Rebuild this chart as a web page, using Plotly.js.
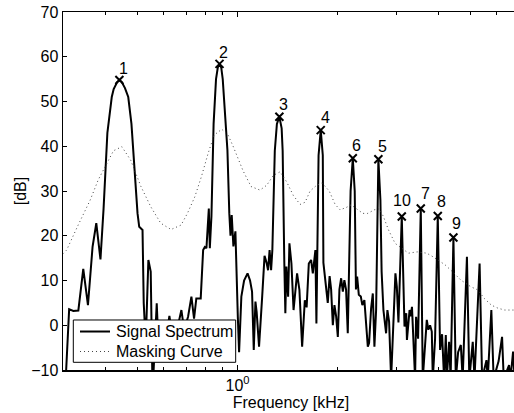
<!DOCTYPE html>
<html>
<head>
<meta charset="utf-8">
<script src="https://cdn.plot.ly/plotly-3.0.1.min.js"></script>
<style>
html,body{margin:0;padding:0;overflow:hidden;background:#fff;width:514px;height:413px;}
#chart{width:520px;height:413px;}
</style>
</head>
<body>
<div id="chart"></div>
<script>
// Signal spectrum: frequency [kHz] and level [dB]
const specFreq = [0.301,0.312,0.321,0.3325,0.344,0.3553,0.3668,0.3764,0.3874,0.3958,0.4064,0.4189,0.4245,0.4345,0.4416,0.4486,0.4590,0.4695,0.48,0.4903,0.5006,0.5065,0.5182,0.5225,0.5298,0.5396,0.5484,0.5555,0.5643,0.5717,0.5782,0.5977,0.6102,0.624,0.6356,0.658,0.678,0.691,0.710,0.7266,0.740,0.7517,0.7749,0.788,0.7971,0.8062,0.8196,0.8253,0.8345,0.8471,0.8614,0.8720,0.8825,0.8930,0.9023,0.919,0.932,0.9443,0.9522,0.9602,0.9714,0.985,0.9931,1.0014,1.0104,1.0263,1.0459,1.0713,1.090,1.1052,1.1183,1.1313,1.1408,1.1599,1.1844,1.2048,1.2215,1.2347,1.2476,1.2607,1.2717,1.2934,1.3123,1.335,1.3561,1.3656,1.3813,1.3913,1.401,1.4182,1.431,1.451,1.4725,1.5088,1.5334,1.5626,1.5918,1.6118,1.6363,1.6627,1.6823,1.6971,1.7126,1.7246,1.7506,1.777,1.8024,1.8099,1.8348,1.8655,1.8894,1.9093,1.932,1.9536,1.9767,2.0,2.0222,2.0462,2.0704,2.0925,2.1175,2.1422,2.1846,2.218,2.2478,2.2667,2.2856,2.3122,2.3447,2.3692,2.403,2.4321,2.4607,2.4826,2.5174,2.5472,2.5756,2.6061,2.647,2.6847,2.7071,2.7411,2.7924,2.8178,2.851,2.8909,2.9372,2.9783,3.0074,3.0411,3.112,3.1494,3.1714,3.2096,3.2252,3.2843,3.3117,3.3394,3.3767,3.412,3.4357,3.4837,3.549,3.5985,3.6995,3.7406,3.785,3.830,3.8567,3.918,3.992,4.056,4.1125,4.1701,4.2196,4.2489,4.3171,4.3622,4.448,4.5221,4.5948,4.6818,4.7412,4.8834,4.9656,5.0838,5.1455,5.3305,5.4244,5.5894,5.6399,5.7812,5.8739,6.08,6.2264,6.2998,6.5356,6.60,6.7192,6.79,6.95];
const specDb = [-20,3.6,3.2,3.3,12.6,4.5,17.5,22.8,14.7,26,43,51,52.8,54.3,54.8,54.4,53,51,45,35,25,22,21.3,5,-4,14.6,12,-15,-2,4.9,-4,-1,-3,2.1,-2,-1,3.4,-1,1.9,6.4,1.5,6,6,16.8,17.5,17.2,26.1,17.2,24.3,45,55,57.6,58.4,57.6,55,45,39.2,25,20,24.6,17.6,21,10,2,-6,6.4,10,11.6,10,7.5,-5.5,5.3,3,-4.8,6,15.5,14,12.3,16.8,12.3,16.8,39,45,46.6,44,39,14,2.7,13.1,6.4,18.3,13.8,3.4,11.6,7.9,-4.8,5.6,4,13.8,14.6,11.6,14,16.8,0.4,38,43.6,38,14,10,5,11,8,0,4.5,2,-2.6,8,10.5,7.5,10.1,7.9,-1.8,30,37.3,30,8,10.9,6.8,6.4,4.5,5.6,-1.1,-4.8,-4,3.8,7.1,-4.8,3.4,37.1,28,12,3.4,-1.8,3.4,0.8,-12,-0.7,11.6,8.6,0.6,24.3,5.6,-0.3,2.7,-3.3,3.4,2,4.1,-2.6,-12,1.9,-3,26.1,-12,1.2,-1,0,-1.4,-12,-3,24.4,-5.5,-2,-12,-2.2,-12,-3.7,-12,19.6,-12,-6,-4.4,-12,15.3,-12,-3.7,-12,13.8,-12,-7.8,-12,3.4,-12,-8,-2.6,-12,-8.9,-12,-5.9,-12,-12];

// Masking curve: frequency [kHz] and level [dB]
const maskFreq = [0.299,0.3066,0.3321,0.361,0.3815,0.4047,0.424,0.4492,0.4774,0.5126,0.5484,0.5878,0.6313,0.6767,0.7068,0.7439,0.7786,0.8155,0.8503,0.8964,0.9364,0.9694,1.0388,1.0977,1.168,1.2234,1.2812,1.342,1.4048,1.4703,1.541,1.595,1.651,1.7292,1.7937,1.8843,1.963,2.032,2.1175,2.1919,2.2951,2.3781,2.4607,2.5746,2.6652,2.7411,2.8391,2.972,3.112,3.2603,3.4605,3.6995,3.8627,4.056,4.199,4.4713,4.6818,5.0198,5.2629,5.5056,5.7812,6.0588,6.3414,6.767,7.0];
const maskDb = [16,16.8,22.4,28,32.5,36.2,39,39.9,36.9,31,26.5,22.8,21.4,22.4,25,28.7,33.2,38.4,42.5,43.8,42.5,40,34.5,31,30.2,31.3,33.5,34.3,32,29,27,27.5,30,31.3,31.8,30,27,25.8,26.3,26.9,25.8,25,25,25.8,26,24.3,21.3,18.3,17.2,16.1,16.4,16.1,15.3,14.2,13.5,11.6,10.1,8.6,7.9,6,4.5,3.8,3.4,3.4,3.4];

// Marked peaks
const peakLabels = ['1','2','3','4','6','5','10','7','8','9'];
const peakFreq = [0.4416,0.8825,1.335,1.777,2.218,2.647,3.112,3.549,3.992,4.448];
const peakDb = [54.8,58.4,46.6,43.6,37.3,37.1,24.3,26.1,24.4,19.6];
const labelDx = [4,3.5,4,4.3,4,4.4,0,4.3,4,3.4];
const labelDy = [12,11.5,12,13,12.5,12.5,16.5,15,14.3,13.7];

// Legend entries
const seriesNames = ['Signal Spectrum', 'Masking Curve'];

// Axis ticks
const xMajorVals = [1];
const xMajorText = ['10<sup>0</sup>'];
const xMinorVals = [0.4,0.5,0.6,0.7,0.8,0.9,2,3,4,5,6];
const yTickVals = [-10,0,10,20,30,40,50,60,70];

const FONT = 'Liberation Sans, Arial, Helvetica, sans-serif';
const specLine = {color: '#000', width: 2};
const maskLine = {color: '#444', width: 1, dash: '1px,3px'};

const traces = [
  {x: specFreq, y: specDb, type: 'scatter', mode: 'lines', name: seriesNames[0], line: specLine},
  {x: maskFreq, y: maskDb, type: 'scatter', mode: 'lines', name: seriesNames[1], line: maskLine},
  {x: peakFreq, y: peakDb, type: 'scatter', mode: 'markers', name: 'Peaks',
   marker: {symbol: 'x-thin', size: 8, color: '#000', line: {color: '#000', width: 2}}}
];

const annotations = peakLabels.map((t, i) => ({
  x: Math.log10(peakFreq[i]), y: peakDb[i], xref: 'x', yref: 'y',
  text: t, showarrow: false, xanchor: 'center', yanchor: 'middle',
  xshift: labelDx[i], yshift: labelDy[i],
  font: {family: FONT, size: 16, color: '#000'}
}));

// Boxed legend (MATLAB style) in paper coordinates
const LG = {x0: 0.0226, x1: 0.3787, y0: 0.0215, y1: 0.1397, s0: 0.0373, s1: 0.1031, tx: 0.112, rows: [0.1075, 0.0517]};
const shapes = [
  {type: 'rect', xref: 'paper', yref: 'paper', x0: LG.x0, x1: LG.x1, y0: LG.y0, y1: LG.y1,
   line: {color: '#000', width: 1}, fillcolor: '#fff', layer: 'above'},
  {type: 'line', xref: 'paper', yref: 'paper', x0: LG.s0, x1: LG.s1, y0: LG.rows[0], y1: LG.rows[0],
   line: specLine, layer: 'above'},
  {type: 'line', xref: 'paper', yref: 'paper', x0: LG.s0, x1: LG.s1, y0: LG.rows[1], y1: LG.rows[1],
   line: maskLine, layer: 'above'}
];
seriesNames.forEach((n, i) => annotations.push({
  xref: 'paper', yref: 'paper', x: LG.tx, y: LG.rows[i], xanchor: 'left', yanchor: 'middle',
  text: n, showarrow: false, font: {family: FONT, size: 16, color: '#000'}
}));

const layout = {
  width: 520, height: 413,
  margin: {l: 63, r: 1, t: 12, b: 43, pad: 0},
  paper_bgcolor: '#fff', plot_bgcolor: '#fff',
  font: {family: FONT, size: 16, color: '#000'},
  showlegend: false,
  xaxis: {
    type: 'log', range: [Math.log10(0.299), Math.log10(7)],
    tickmode: 'array', tickvals: xMajorVals, ticktext: xMajorText,
    ticks: 'inside', ticklen: 5, tickwidth: 1, tickcolor: '#000',
    minor: {tickmode: 'array', tickvals: xMinorVals, ticks: 'inside', ticklen: 3, tickwidth: 1, tickcolor: '#000', showgrid: false},
    showline: true, linecolor: '#000', linewidth: 1.5, mirror: 'ticks',
    showgrid: false, zeroline: false,
    title: {text: 'Frequency [kHz]', standoff: 2, font: {family: FONT, size: 16, color: '#000'}},
    tickfont: {family: FONT, size: 16, color: '#000'}
  },
  yaxis: {
    range: [-10, 70], tickmode: 'array', tickvals: yTickVals,
    ticks: 'inside', ticklen: 4, tickwidth: 1, tickcolor: '#000',
    showline: true, linecolor: '#000', linewidth: 1.5, mirror: 'ticks',
    showgrid: false, zeroline: false,
    title: {text: '[dB]', standoff: 0, font: {family: FONT, size: 16, color: '#000'}},
    tickfont: {family: FONT, size: 16, color: '#000'}
  },
  shapes: shapes,
  annotations: annotations
};

Plotly.newPlot('chart', traces, layout, {displayModeBar: false, staticPlot: true});
</script>
</body>
</html>
